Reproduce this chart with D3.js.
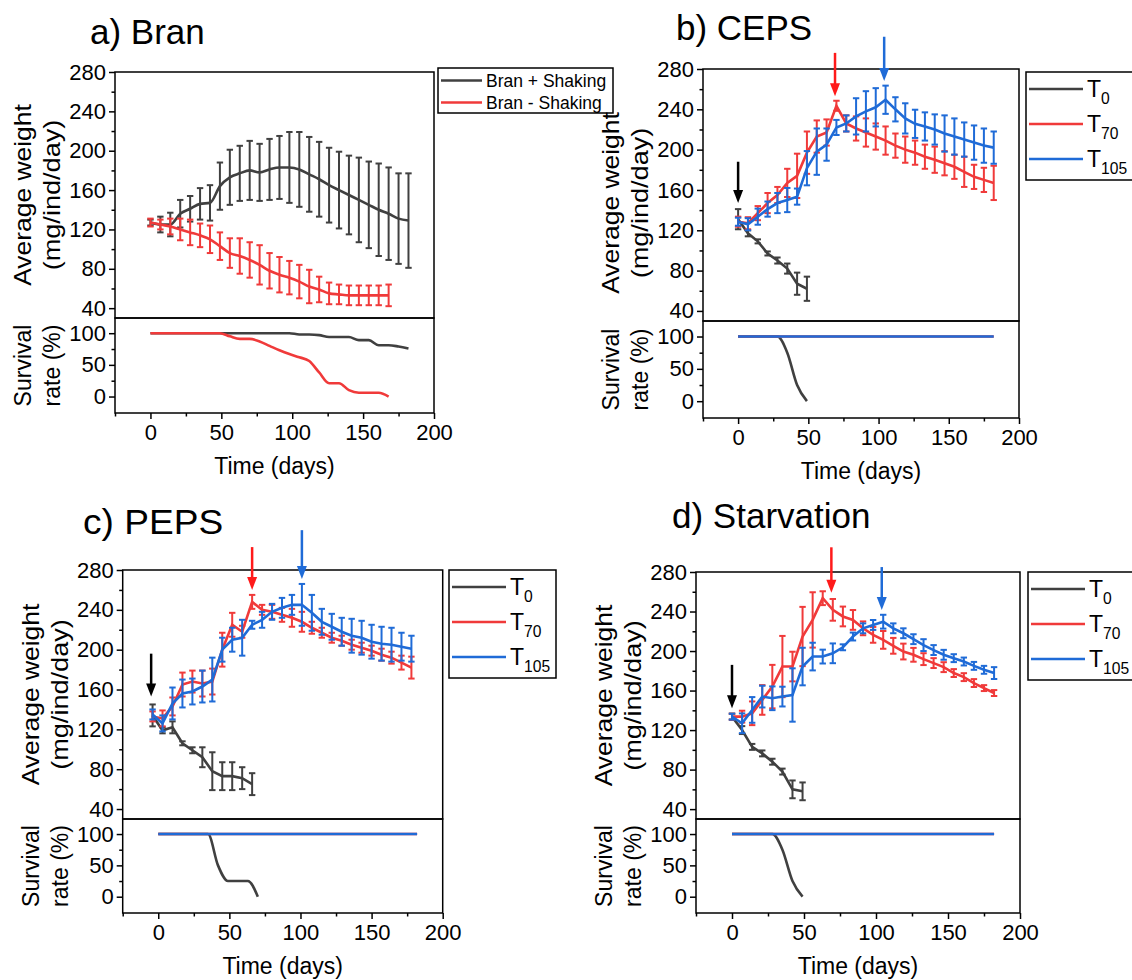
<!DOCTYPE html>
<html>
<head>
<meta charset="utf-8" />
<title>Weight and survival</title>
<script src="https://d3js.org/d3.v7.min.js"></script>
<style>
  body { margin: 0; background: #fff; }
  svg text { font-family: "Liberation Sans", Arial, sans-serif; fill: #000; }
</style>
</head>
<body>
<svg id="viz"></svg>
<script>
// ---- data ----
// a) Bran
var daysA1 = [0,7,14,21,28,35,42,49,56,63,70,77,84,91,98,105,112,119,126,133,140,147,154,161,168,175,182];
var daysA2 = [0,7,14,21,28,35,42,49,56,63,70,77,84,91,98,105,112,119,126,133,140,147,154,161,168];
var branPlusMean = [127,125,125,136,141,146,147,164,173,177,180,178,181,183,183,181,176,171,165,160,155,150,145,140,136,131,129];
var branPlusErr  = [3,8,12,14,13,16,18,24,28,28,30,29,31,32,36,38,38,38,38,39,40,43,44,47,47,46,48];
var branMinusMean = [127,125,123,120,117,114,110,103,96,93,89,84,78,74,71,67,62,59,55,54,53,53,53,53,53];
var branMinusErr  = [4,5,8,11,13,12,14,14,15,18,18,20,18,18,17,17,17,13,11,10,10,10,10,10,11];
var branPlusSurv  = [100,100,100,100,100,100,100,100,100,100,100,100,100,100,100,98,98,97,94,94,94,89,89,81,81,79,76];
var branMinusSurv = [100,100,100,100,100,100,100,100,95,91,91,87,80,73,67,62,56,38,21,21,10,6,6,6,0];

// b) CEPS
var daysB = [0,7,14,21,28,35,42,49,56,63,70,77,84,91,98,105,112,119,126,133,140,147,154,161,168,175,182];
var daysB0 = [0,7,14,21,28,35,42,49];
var cepsT0Mean = [131,117,109,97,90,82,67,62];
var cepsT0Err  = [10,3,2,2,3,5,11,12];
var cepsT70Mean = [128.5,127,137,147,155,167,174,197,213,217,243.5,226,221,217,213,209,204,200,197,193,190,186.5,183,178,173,170,167];
var cepsT70Err  = [5,6,7,10,8,14,22,21,16,13,5,8,12,14,13,14,12,13,12,12,13,12,12,15,12,12,17];
var cepsT105Mean = [128.5,126,133.5,141,147,150,153.4,181.6,198,205,222,226,233,238,242,249.5,240,231,225.6,223,220,216,213,210,207,204,202];
var cepsT105Err  = [4,6,8,7.5,10,12,8,17,23,16,7.5,8,18,20,19,14,12,15,14,14,15,18,18,17,17,17,16];
var cepsT0Surv = [100,100,100,100,100,75,25,0];
var fullSurv = [100,100,100,100,100,100,100,100,100,100,100,100,100,100,100,100,100,100,100,100,100,100,100,100,100,100,100];

// c) PEPS (weights plotted shifted by -4 days)
var daysC = [-4,3,10,17,24,31,38,45,52,59,66,73,80,87,94,101,108,115,122,129,136,143,150,157,164,171,178];
var daysC0 = [-4,3,10,17,24,31,38,45,52,59,66];
var pepsT0Mean = [134,119,122,106,99,92,78,73,73,71,65];
var pepsT0Err  = [11,3,6,2,3,10,19,14,14,11,11];
var pepsT70Mean = [133,131,143,165,168,166,168,200,225,218,248,240,238,235,232,228,222,217,212,209,205,202,199,195,192,187,182];
var pepsT70Err  = [5,8,9,12,11,13,13,17,12,6,7,5,7,7,9,10,6,5,5,5,5,5,5,6,6,7,11];
var pepsT105Mean = [135,126,146,156,158,163,170,200,210,212,225,230,238,242,245,245,237,228,223,218,214,212,208,206,205,203,201];
var pepsT105Err  = [5,8,16,14,13,16,22,12,12,18,4,8,8,10,10,21,18,13,13,14,17,17,17,17,17,14,13];
var daysCs0 = [0,7,14,21,28,35,42,49,56,63,70];
var pepsT0Surv = [100,100,100,100,100,100,50,25,25,25,0];

// d) Starvation
var daysD = [0,7,14,21,28,35,42,49,56,63,70,77,84,91,98,105,112,119,126,133,140,147,154,161,168,175,182];
var daysD0 = [0,7,14,21,28,35,42,49];
var starvT0Mean = [133.6,120,103,96.4,88,78,60,58];
var starvT0Err  = [3,4,3,3,3,3,9,9];
var starvT70Mean = [133.6,133.6,137,150.5,164,184.3,184.3,214.7,231.5,253.5,241.7,235,231.5,223,216.4,211.3,205.3,199.5,196.2,191.8,187.8,183.7,177.7,173.6,167.6,162.5,157.5];
var starvT70Err  = [3,6,12,15,22,31,15,30,28,7,11,10,10,7,8,9,8,8,7,6,5,5,4,4,4,3,3];
var starvT105Mean = [133.6,126.9,140.4,153.9,152.2,153.9,155.5,184.3,194.4,194.4,197.7,203.8,214.7,223,226.4,229.7,223,218,212,206,201,196.2,192.8,189.4,185,181,177.7];
var starvT105Err  = [3,10,13,11,12,10,27,19,14,7,10,3,4,5,5,7,5,5,5,6,5,5,4,4,4,4,6];
var starvT0Surv = [100,100,100,100,100,75,25,0];

// arrows: [day, top value, tip value]
var arrowsB = [[0,188,147],[69,296,253],[104,312,268]];
var arrowsC = [[-5,196,153],[66,303,260],[101,320,271]];
var arrowsD = [[0,186,142],[69,305,259],[104,285,241.5]];

var weightTicks = [40,80,120,160,200,240,280];
var weightMinor = [60,100,140,180,220,260];
var survTicks = [0,50,100];
var survMinor = [25,75];
var timeTicks = [0,50,100,150,200];
var timeMinor = [-25,25,75,125,175];

var gray = "#404040", red = "#f03a3a", blue = "#1f6bd7";

var svg = d3.select("#viz").attr("width", 1132).attr("height", 980);

function pts(days, mean, err) {
  return days.map(function(d, i) { return {x: d, m: mean[i], e: err ? err[i] : 0}; });
}

function drawPanel(p) {
  var g = svg.append("g");
  var x = d3.scaleLinear().domain([-25, 200]).range([p.left, p.right]);
  var yW = d3.scaleLinear().domain([30, 280]).range([p.mid, p.top]);
  var yS = d3.scaleLinear().domain([-26, 124]).range([p.bottom, p.mid]);

  // title
  g.append("text").attr("transform", "translate(" + p.tx + "," + p.ty + ") scale(" + (p.tsx || 1) + ",1)")
    .attr("font-size", 35).text(p.title);

  // axes
  function styleAxis(sel, fs) {
    sel.select(".domain").remove();
    sel.selectAll(".tick line").attr("stroke", "#000").attr("stroke-width", 1.5);
    sel.selectAll(".tick text").attr("font-size", fs).attr("font-family", null).attr("fill", "#000");
  }
  g.append("g").attr("transform", "translate(" + p.left + ",0)")
    .call(d3.axisLeft(yW).tickValues(weightTicks).tickSize(6).tickPadding(3))
    .call(styleAxis, 22);
  g.append("g").attr("transform", "translate(" + p.left + ",0)")
    .call(d3.axisLeft(yW).tickValues(weightMinor).tickSize(3.5).tickFormat(""))
    .call(styleAxis, 22);
  g.append("g").attr("transform", "translate(" + p.left + ",0)")
    .call(d3.axisLeft(yS).tickValues(survTicks).tickSize(6).tickPadding(3))
    .call(styleAxis, 22);
  g.append("g").attr("transform", "translate(" + p.left + ",0)")
    .call(d3.axisLeft(yS).tickValues(survMinor).tickSize(3.5).tickFormat(""))
    .call(styleAxis, 22);
  g.append("g").attr("transform", "translate(0," + p.bottom + ")")
    .call(d3.axisBottom(x).tickValues(timeTicks).tickSize(6).tickPadding(5))
    .call(styleAxis, 22);
  g.append("g").attr("transform", "translate(0," + p.bottom + ")")
    .call(d3.axisBottom(x).tickValues(timeMinor).tickSize(3.5).tickFormat(""))
    .call(styleAxis, 22);

  // frames
  g.append("rect").attr("x", p.left).attr("y", p.top).attr("width", p.right - p.left).attr("height", p.mid - p.top)
    .attr("fill", "none").attr("stroke", "#000").attr("stroke-width", 1.5);
  g.append("rect").attr("x", p.left).attr("y", p.mid).attr("width", p.right - p.left).attr("height", p.bottom - p.mid)
    .attr("fill", "none").attr("stroke", "#000").attr("stroke-width", 1.5);

  // axis titles (the weight ones are drawn stretched along their length, as in the source figure)
  var cyW = (p.top + p.mid) / 2 + (p.labShift || 0), cyS = (p.mid + p.bottom) / 2;
  [["Average weight", p.left - 84, cyW, 1.15], ["(mg/ind/day)", p.left - 55, cyW, 1.18],
   ["Survival", p.left - 84, cyS, 1], ["rate (%)", p.left - 55, cyS, 1]].forEach(function(t) {
    g.append("text").attr("transform", "translate(" + t[1] + "," + t[2] + ") rotate(-90) scale(" + t[3] + ",1)")
      .attr("text-anchor", "middle").attr("font-size", 23).text(t[0]);
  });
  g.append("text").attr("x", (p.left + p.right) / 2).attr("y", p.bottom + 61)
    .attr("text-anchor", "middle").attr("font-size", 23).text("Time (days)");

  // weight series
  p.series.forEach(function(s) {
    var data = pts(s.days, s.mean, s.err);
    var line = d3.line().x(function(d) { return x(d.x); }).y(function(d) { return yW(d.m); })
      .curve(s.smooth ? d3.curveMonotoneX : d3.curveLinear);
    var sg = g.append("g").attr("stroke", s.color).attr("fill", "none");
    sg.append("path").attr("d", line(data)).attr("stroke-width", 2.6);
    var eb = sg.selectAll("g.eb").data(data).enter().append("g").attr("stroke-width", 2);
    eb.append("line")
      .attr("x1", function(d) { return x(d.x); }).attr("x2", function(d) { return x(d.x); })
      .attr("y1", function(d) { return yW(d.m - d.e); }).attr("y2", function(d) { return yW(d.m + d.e); });
    [-1, 1].forEach(function(sign) {
      eb.append("line")
        .attr("x1", function(d) { return x(d.x) - 3.2; }).attr("x2", function(d) { return x(d.x) + 3.2; })
        .attr("y1", function(d) { return yW(d.m + sign * d.e); }).attr("y2", function(d) { return yW(d.m + sign * d.e); });
    });
  });

  // survival series
  p.surv.forEach(function(s) {
    var data = pts(s.days, s.vals);
    var line = d3.line().x(function(d) { return x(d.x); }).y(function(d) { return yS(d.m); })
      .curve(d3.curveMonotoneX);
    g.append("path").attr("d", line(data)).attr("fill", "none").attr("stroke", s.color).attr("stroke-width", 2.6);
  });

  // arrows
  (p.arrows || []).forEach(function(a, i) {
    var col = [ "#000", "#ff1a1a", "#1f6bd7" ][i];
    var ax = x(a[0]), y0 = yW(a[1]), y1 = yW(a[2]);
    g.append("line").attr("x1", ax).attr("x2", ax).attr("y1", y0).attr("y2", y1 - 10)
      .attr("stroke", col).attr("stroke-width", 2.5);
    g.append("path").attr("d", "M" + (ax - 5) + "," + (y1 - 13) + "L" + (ax + 5) + "," + (y1 - 13) + "L" + ax + "," + y1 + "Z")
      .attr("fill", col);
  });

  // legend
  var L = p.legend;
  g.append("rect").attr("x", L.x).attr("y", L.y).attr("width", L.w).attr("height", L.h)
    .attr("fill", "#fff").attr("stroke", "#000").attr("stroke-width", 1.5);
  L.items.forEach(function(it, i) {
    var yy = L.y + L.first + i * L.step;
    g.append("line").attr("x1", L.x + 3).attr("x2", L.x + 3 + L.len).attr("y1", yy).attr("y2", yy)
      .attr("stroke", it.color).attr("stroke-width", 2.6);
    var t = g.append("text").attr("x", L.x + L.len + 7).attr("y", yy + L.fs * 0.36).attr("font-size", L.fs);
    t.append("tspan").text(it.label);
    if (it.sub) t.append("tspan").attr("font-size", L.fs * 0.68).attr("dy", 7).text(it.sub);
  });
}

var tLegend = function(x, y) {
  return {x: x, y: y, w: 130, h: 108, first: 17, step: 35, len: 54, fs: 23,
    items: [{label: "T", sub: "0", color: gray}, {label: "T", sub: "70", color: red}, {label: "T", sub: "105", color: blue}]};
};

drawPanel({
  title: "a) Bran", tx: 90, ty: 44,
  left: 115, right: 434, top: 72, mid: 318, bottom: 413,
  series: [
    {days: daysA1, mean: branPlusMean, err: branPlusErr, color: gray, smooth: true},
    {days: daysA2, mean: branMinusMean, err: branMinusErr, color: red, smooth: true}
  ],
  surv: [
    {days: daysA1, vals: branPlusSurv, color: gray},
    {days: daysA2, vals: branMinusSurv, color: red}
  ],
  legend: {x: 438, y: 68, w: 175, h: 45, first: 12.5, step: 22, len: 41, fs: 17.5,
    items: [{label: "Bran + Shaking", color: gray}, {label: "Bran - Shaking", color: red}]}
});

drawPanel({
  title: "b) CEPS", tx: 676, ty: 40, labShift: 8,
  left: 703, right: 1019, top: 69, mid: 321, bottom: 418,
  series: [
    {days: daysB0, mean: cepsT0Mean, err: cepsT0Err, color: gray},
    {days: daysB, mean: cepsT70Mean, err: cepsT70Err, color: red},
    {days: daysB, mean: cepsT105Mean, err: cepsT105Err, color: blue}
  ],
  surv: [
    {days: daysB0, vals: cepsT0Surv, color: gray},
    {days: daysB, vals: fullSurv, color: red},
    {days: daysB, vals: fullSurv, color: blue}
  ],
  arrows: arrowsB,
  legend: tLegend(1026, 72)
});

drawPanel({
  title: "c) PEPS", tx: 83, ty: 534, tsx: 1.06,
  left: 122.7, right: 442.7, top: 570, mid: 819, bottom: 913,
  series: [
    {days: daysC0, mean: pepsT0Mean, err: pepsT0Err, color: gray},
    {days: daysC, mean: pepsT70Mean, err: pepsT70Err, color: red},
    {days: daysC, mean: pepsT105Mean, err: pepsT105Err, color: blue}
  ],
  surv: [
    {days: daysCs0, vals: pepsT0Surv, color: gray},
    {days: daysB, vals: fullSurv, color: red},
    {days: daysB, vals: fullSurv, color: blue}
  ],
  arrows: arrowsC,
  legend: Object.assign(tLegend(449, 570), {w: 107})
});

drawPanel({
  title: "d) Starvation", tx: 672, ty: 528,
  left: 696, right: 1020, top: 572, mid: 819, bottom: 913,
  series: [
    {days: daysD0, mean: starvT0Mean, err: starvT0Err, color: gray},
    {days: daysD, mean: starvT70Mean, err: starvT70Err, color: red},
    {days: daysD, mean: starvT105Mean, err: starvT105Err, color: blue}
  ],
  surv: [
    {days: daysD0, vals: starvT0Surv, color: gray},
    {days: daysD, vals: fullSurv, color: red},
    {days: daysD, vals: fullSurv, color: blue}
  ],
  arrows: arrowsD,
  legend: tLegend(1028, 572)
});
</script>
</body>
</html>
